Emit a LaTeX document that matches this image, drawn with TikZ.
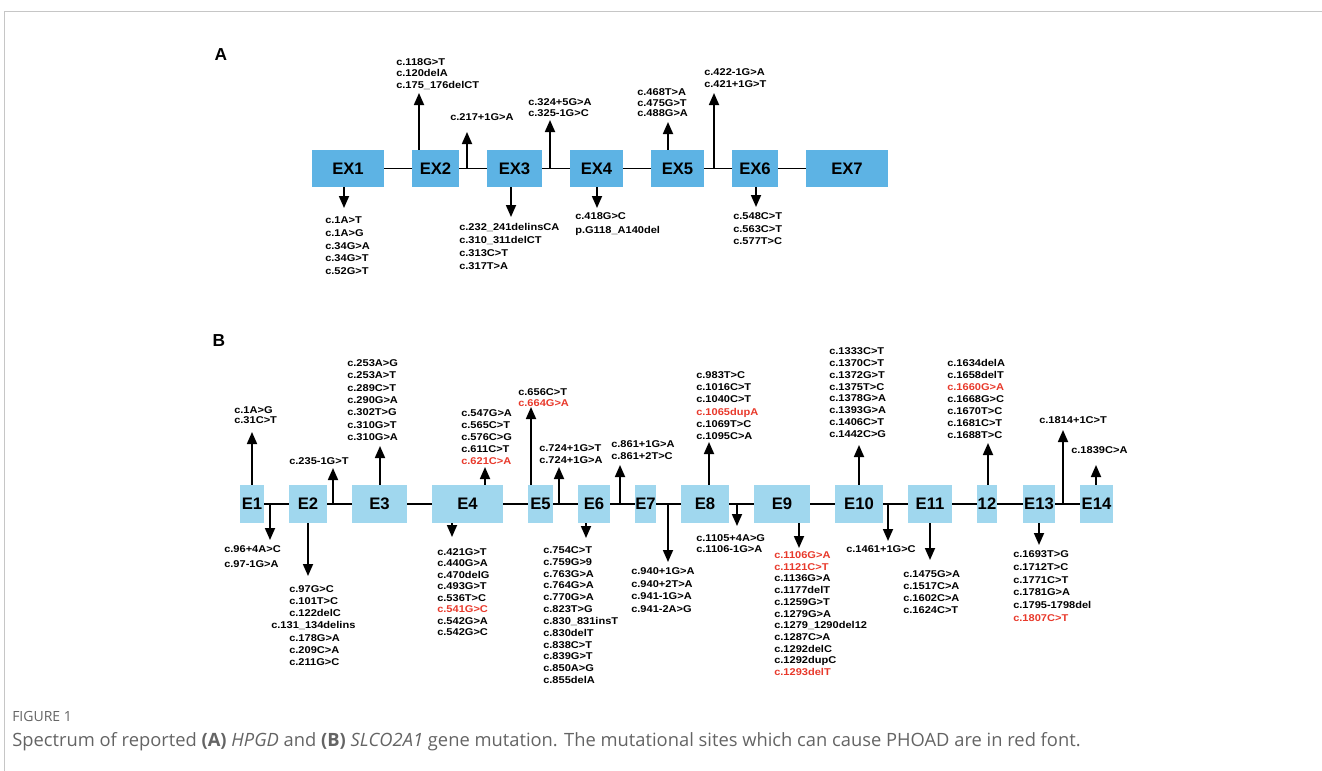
\documentclass[tikz,border=0pt]{standalone}
\usepackage{fontspec}
\setmainfont{Liberation Sans}
\newfontfamily\mutfont{Liberation Sans}[FakeStretch=1.12]
\newfontfamily\capfont{Open Sans}
\usetikzlibrary{arrows.meta,positioning}
\definecolor{exonA}{RGB}{93,179,228}
\definecolor{exonB}{RGB}{160,215,238}
\definecolor{mutred}{RGB}{232,57,43}
\definecolor{captiongray}{RGB}{100,100,100}
\newcommand{\phoad}[1]{\textcolor{mutred}{#1}}
\newcommand{\mutlist}[4]{\node (#1) [mutlabel] at (#2) {\fontsize{7.4}{#3}\selectfont\begin{tabular}[t]{@{}l@{}}#4\end{tabular}};}
\tikzset{
  exonbox/.style={inner sep=0pt, font=\fontsize{12.5}{14}\selectfont\bfseries, text=black},
  exA/.style={exonbox, fill=exonA, minimum height=27.75pt},
  exB/.style={exonbox, fill=exonB, minimum height=28.5pt},
  backbone/.style={line width=1.2pt},
  mutarrow/.style={-{Triangle[width=7.5pt,length=9pt]}, line width=1.3pt},
  mutlabel/.style={anchor=base west, inner sep=0pt, font=\mutfont\bfseries},
  panel/.style={font=\fontsize{13}{15}\selectfont\bfseries},
  caption/.style={anchor=base west, inner sep=0pt, text=captiongray},
}
\begin{document}
\begin{tikzpicture}[x=0.75pt,y=-0.75pt]
\useasboundingbox (0,0) rectangle (1322,771);
\draw[gray!45, line width=0.75pt] (4,771) -- (4,11) -- (1322,11);

% panel A: HPGD
\node (pA) [panel] at (221,55) {A};
\node (ex1) [exA, minimum width=54pt] at (348,168.5) {EX1};
\node (ex2) [exA, minimum width=35.25pt] at (435.5,168.5) {EX2};
\node (ex3) [exA, minimum width=41.25pt] at (514.5,168.5) {EX3};
\node (ex4) [exA, minimum width=39.75pt] at (596.5,168.5) {EX4};
\node (ex5) [exA, minimum width=39.75pt] at (677.5,168.5) {EX5};
\node (ex6) [exA, minimum width=34.5pt] at (755,168.5) {EX6};
\node (ex7) [exA, minimum width=61.5pt] at (847,168.5) {EX7};

\draw[backbone] (ex1) -- (ex2);
\draw[backbone] (ex2) -- (ex3);
\draw[backbone] (ex3) -- (ex4);
\draw[backbone] (ex4) -- (ex5);
\draw[backbone] (ex5) -- (ex6);
\draw[backbone] (ex6) -- (ex7);

\coordinate (tA2) at (419,93);
\coordinate (tA217) at (467,132);
\coordinate (tA324) at (550,120);
\coordinate (tA5) at (668,122);
\coordinate (tA422) at (714,93);
\coordinate (tA1) at (344,208);
\coordinate (tA3) at (511,217);
\coordinate (tA4) at (597,208);
\coordinate (tA6) at (756,207);

\draw[mutarrow] (tA2 |- ex2.north) -- (tA2);
\draw[mutarrow] (tA217 |- ex2.east) -- (tA217);
\draw[mutarrow] (tA324 |- ex3.east) -- (tA324);
\draw[mutarrow] (tA5 |- ex5.north) -- (tA5);
\draw[mutarrow] (tA422 |- ex5.east) -- (tA422);
\draw[mutarrow] (tA1 |- ex1.south) -- (tA1);
\draw[mutarrow] (tA3 |- ex3.south) -- (tA3);
\draw[mutarrow] (tA4 |- ex4.south) -- (tA4);
\draw[mutarrow] (tA6 |- ex6.south) -- (tA6);

\mutlist{lA2}{396,65.5}{8.6pt}{c.118G>T\\c.120delA\\c.175\_176delCT}
\mutlist{lA217}{450,120.5}{8.6pt}{c.217+1G>A}
\mutlist{lA324}{528,105.5}{8.25pt}{c.324+5G>A\\c.325-1G>C}
\mutlist{lA5}{637,95.5}{7.9pt}{c.468T>A\\c.475G>T\\c.488G>A}
\mutlist{lA422}{704,75.5}{9pt}{c.422-1G>A\\c.421+1G>T}
\mutlist{lA1}{325,223.5}{9.6pt}{c.1A>T\\c.1A>G\\c.34G>A\\c.34G>T\\c.52G>T}
\mutlist{lA3}{459,230.5}{9.75pt}{c.232\_241delinsCA\\c.310\_311delCT\\c.313C>T\\c.317T>A}
\mutlist{lA4}{575,219.5}{10.5pt}{c.418G>C\\p.G118\_A140del}
\mutlist{lA6}{733,219.5}{9.4pt}{c.548C>T\\c.563C>T\\c.577T>C}

% panel B: SLCO2A1
\node (pB) [panel] at (219,341) {B};
\node (e1) [exB, minimum width=18pt] at (252,504) {E1};
\node (e2) [exB, minimum width=28.5pt] at (308,504) {E2};
\node (e3) [exB, minimum width=41.25pt] at (379.5,504) {E3};
\node (e4) [exB, minimum width=53.25pt] at (467.5,504) {E4};
\node (e5) [exB, minimum width=18.75pt] at (540.5,504) {E5};
\node (e6) [exB, minimum width=24pt] at (594,504) {E6};
\node (e7) [exB, minimum width=15.75pt] at (645.5,504) {E7};
\node (e8) [exB, minimum width=36pt] at (705,504) {E8};
\node (e9) [exB, minimum width=42pt] at (782,504) {E9};
\node (e10) [exB, minimum width=36pt] at (859,504) {E10};
\node (e11) [exB, minimum width=33pt] at (930,504) {E11};
\node (e12) [exB, minimum width=15pt] at (987,504) {12};
\node (e13) [exB, minimum width=24pt] at (1039,504) {E13};
\node (e14) [exB, minimum width=24.75pt] at (1096.5,504) {E14};

\draw[backbone] (e1) -- (e2);
\draw[backbone] (e2) -- (e3);
\draw[backbone] (e3) -- (e4);
\draw[backbone] (e4) -- (e5);
\draw[backbone] (e5) -- (e6);
\draw[backbone] (e6) -- (e7);
\draw[backbone] (e7) -- (e8);
\draw[backbone] (e8) -- (e9);
\draw[backbone] (e9) -- (e10);
\draw[backbone] (e10) -- (e11);
\draw[backbone] (e11) -- (e12);
\draw[backbone] (e12) -- (e13);
\draw[backbone] (e13) -- (e14);

% up arrows
\coordinate (tB1) at (252,432);
\coordinate (tB235) at (333,468);
\coordinate (tB3) at (380,446);
\coordinate (tB4) at (485,467);
\coordinate (tB5) at (531,407);
\coordinate (tB724) at (559,467);
\coordinate (tB861) at (620,465);
\coordinate (tB8) at (709,442);
\coordinate (tB10) at (859,445);
\coordinate (tB12) at (988,443);
\coordinate (tB1814) at (1063,430);
\coordinate (tB14) at (1096,465);

\draw[mutarrow] (tB1 |- e1.north) -- (tB1);
\draw[mutarrow] (tB235 |- e2.east) -- (tB235);
\draw[mutarrow] (tB3 |- e3.north) -- (tB3);
\draw[mutarrow] (tB4 |- e4.north) -- (tB4);
\draw[mutarrow] (tB5 |- e5.north) -- (tB5);
\draw[mutarrow] (tB724 |- e5.east) -- (tB724);
\draw[mutarrow] (tB861 |- e6.east) -- (tB861);
\draw[mutarrow] (tB8 |- e8.north) -- (tB8);
\draw[mutarrow] (tB10 |- e10.north) -- (tB10);
\draw[mutarrow] (tB12 |- e12.north) -- (tB12);
\draw[mutarrow] (tB1814 |- e13.east) -- (tB1814);
\draw[mutarrow] (tB14 |- e14.north) -- (tB14);

% down arrows
\coordinate (dB96) at (270,540);
\coordinate (dB2) at (308,576);
\coordinate (dB4) at (452,537);
\coordinate (dB6) at (586,538);
\coordinate (dB940) at (668,562);
\coordinate (dB1105) at (737,526);
\coordinate (dB9) at (799,548);
\coordinate (dB1461) at (888,541);
\coordinate (dB11) at (930,560);
\coordinate (dB13) at (1039,545);

\draw[mutarrow] (dB96 |- e1.east) -- (dB96);
\draw[mutarrow] (dB2 |- e2.south) -- (dB2);
\draw[mutarrow] (dB4 |- e4.south) -- (dB4);
\draw[mutarrow] (dB6 |- e6.south) -- (dB6);
\draw[mutarrow] (dB940 |- e7.east) -- (dB940);
\draw[mutarrow] (dB1105 |- e8.east) -- (dB1105);
\draw[mutarrow] (dB9 |- e9.south) -- (dB9);
\draw[mutarrow] (dB1461 |- e10.east) -- (dB1461);
\draw[mutarrow] (dB11 |- e11.south) -- (dB11);
\draw[mutarrow] (dB13 |- e13.south) -- (dB13);

\mutlist{lB1}{234,413.5}{7.5pt}{c.1A>G\\c.31C>T}
\mutlist{lB235}{289,464.5}{8pt}{c.235-1G>T}
\mutlist{lB3}{347,366.5}{9.25pt}{c.253A>G\\c.253A>T\\c.289C>T\\c.290G>A\\c.302T>G\\c.310G>T\\c.310G>A}
\mutlist{lB4u}{461,416.5}{9pt}{c.547G>A\\c.565C>T\\c.576C>G\\c.611C>T\\\phoad{c.621C>A}}
\mutlist{lB5}{518,395.5}{8.25pt}{c.656C>T\\\phoad{c.664G>A}}
\mutlist{lB724}{539,451.5}{9pt}{c.724+1G>T\\c.724+1G>A}
\mutlist{lB861}{611,447.5}{9pt}{c.861+1G>A\\c.861+2T>C}
\mutlist{lB8}{696,378.5}{9.15pt}{c.983T>C\\c.1016C>T\\c.1040C>T\\\phoad{c.1065dupA}\\c.1069T>C\\c.1095C>A}
\mutlist{lB10}{829,354.5}{8.9pt}{c.1333C>T\\c.1370C>T\\c.1372G>T\\c.1375T>C\\c.1378G>A\\c.1393G>A\\c.1406C>T\\c.1442C>G}
\mutlist{lB12}{947,366.5}{9pt}{c.1634delA\\c.1658delT\\\phoad{c.1660G>A}\\c.1668G>C\\c.1670T>C\\c.1681C>T\\c.1688T>C}
\mutlist{lB1814}{1039,423.5}{9pt}{c.1814+1C>T}
\mutlist{lB1839}{1071,453.5}{9pt}{c.1839C>A}

\mutlist{lB96}{224,552.5}{11.25pt}{c.96+4A>C\\c.97-1G>A}
\mutlist{lB2}{289,592.5}{9.1pt}{c.97G>C\\c.101T>C\\c.122delC\\\hspace*{-13.5pt}c.131\_134delins\\c.178G>A\\c.209C>A\\c.211G>C}
\mutlist{lB4d}{437,555.5}{8.57pt}{c.421G>T\\c.440G>A\\c.470delG\\c.493G>T\\c.536T>C\\\phoad{c.541G>C}\\c.542G>A\\c.542G>C}
\mutlist{lB6}{543,553.5}{8.86pt}{c.754C>T\\c.759G>9\\c.763G>A\\c.764G>A\\c.770G>A\\c.823T>G\\c.830\_831insT\\c.830delT\\c.838C>T\\c.839G>T\\c.850A>G\\c.855delA}
\mutlist{lB940}{631,574.5}{9.5pt}{c.940+1G>A\\c.940+2T>A\\c.941-1G>A\\c.941-2A>G}
\mutlist{lB1105}{696,541.5}{8.25pt}{c.1105+4A>G\\c.1106-1G>A}
\mutlist{lB9}{774,558.5}{8.78pt}{\phoad{c.1106G>A}\\\phoad{c.1121C>T}\\c.1136G>A\\c.1177delT\\c.1259G>T\\c.1279G>A\\c.1279\_1290del12\\c.1287C>A\\c.1292delC\\c.1292dupC\\\phoad{c.1293delT}}
\mutlist{lB1461}{846,552.5}{9pt}{c.1461+1G>C}
\mutlist{lB11}{903,577.5}{9pt}{c.1475G>A\\c.1517C>A\\c.1602C>A\\c.1624C>T}
\mutlist{lB13}{1013,557.5}{9.6pt}{c.1693T>G\\c.1712T>C\\c.1771C>T\\c.1781G>A\\c.1795-1798del\\\phoad{c.1807C>T}}

% caption
\node (fig) [caption, font=\capfont\fontsize{10.5}{12}\selectfont] at (12,721) {FIGURE 1};
\node (cap) [caption, font=\capfont\fontsize{13.75}{16}\selectfont] at (12,746) {Spectrum of reported \textbf{(A)} \textit{HPGD} and \textbf{(B)} \textit{SLCO2A1} gene mutation. The mutational sites which can cause PHOAD are in red font.};
\end{tikzpicture}
\end{document}
